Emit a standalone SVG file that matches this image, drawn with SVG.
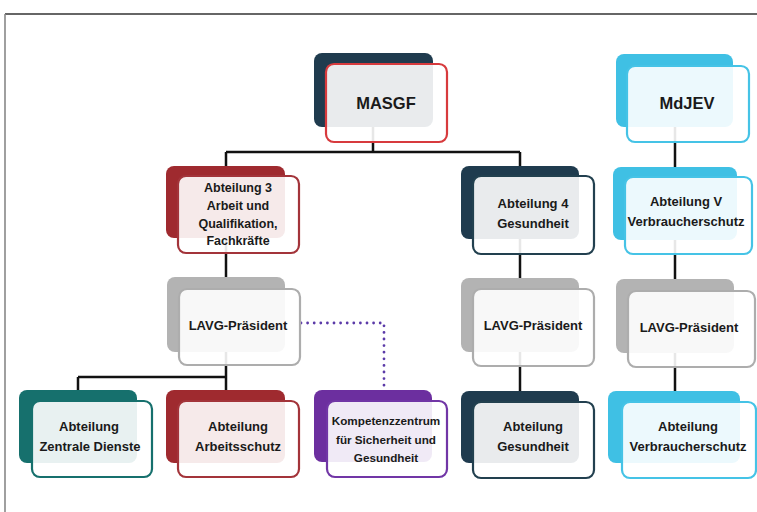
<svg xmlns="http://www.w3.org/2000/svg" width="757" height="512" viewBox="0 0 757 512">
<style>
.back{stroke:none}
.front{fill:#ffffff;fill-opacity:0.9;stroke-width:2.2}
.t{font-family:"Liberation Sans",Arial,sans-serif;font-weight:bold;font-size:13px;fill:#1a1a1a;text-anchor:middle}
.big{font-size:16.5px}
.s12{font-size:12.5px}
.s115{font-size:11.7px}
.navy{fill:#1f3b4e}
.navyS{stroke:#22404f}
.red{fill:#9f2a2f}
.redS{stroke:#a3343a}
.brightS{stroke:#d73a3d}
.cyan{fill:#3fc0e4}
.cyanS{stroke:#45c3e6}
.gray{fill:#b3b3b3}
.grayS{stroke:#adadad}
.teal{fill:#16706d}
.tealS{stroke:#16706d}
.purple{fill:#6c2f9f}
.purpleS{stroke:#7136a6}
.conn{fill:none;stroke:#111;stroke-width:2.5}
</style>
<g id="frame">
<line x1="5" y1="14" x2="757" y2="14" stroke="#333" stroke-width="1.3"/>
<line x1="5" y1="14" x2="5" y2="512" stroke="#888" stroke-width="1.6"/>
</g>
<g id="connectors">
<path class="conn" d="M373,90 V152 M226,152 H520 M226,152 V200 M520,152 V200"/>
<path class="conn" d="M226,200 V320"/>
<path class="conn" d="M226,320 V377 M78,377 H227 M78,377 V420 M226,377 V420"/>
<path class="conn" d="M520,200 V430"/>
<path class="conn" d="M675,90 V430"/>
<path d="M301,323 H384 V389" fill="none" stroke="#5b3aa8" stroke-width="2.8" stroke-linecap="round" stroke-dasharray="0 6.6"/>
</g>
<g id="masgf">
<rect class="back navy" x="314" y="53" width="119" height="74" rx="8"/>
<rect class="front brightS" x="326" y="64" width="121" height="78" rx="8"/>
<text class="t big" x="386" y="109">MASGF</text>
</g>
<g id="mdjev">
<rect class="back cyan" x="616" y="54" width="117" height="73" rx="8"/>
<rect class="front cyanS" x="627" y="66" width="122" height="76" rx="8"/>
<text class="t big" x="687" y="109">MdJEV</text>
</g>
<g id="abt3">
<rect class="back red" x="166" y="166" width="119" height="72" rx="8"/>
<rect class="front redS" x="178" y="176" width="121" height="77" rx="8"/>
<text class="t s12" x="238" y="192">Abteilung 3</text>
<text class="t s12" x="238" y="210">Arbeit und</text>
<text class="t s12" x="238" y="228">Qualifikation,</text>
<text class="t s12" x="238" y="245">Fachkräfte</text>
</g>
<g id="abt4">
<rect class="back navy" x="461" y="166" width="118" height="73" rx="8"/>
<rect class="front navyS" x="473" y="176" width="121" height="78" rx="8"/>
<text class="t" x="533" y="208">Abteilung 4</text>
<text class="t" x="533" y="228">Gesundheit</text>
</g>
<g id="abtV">
<rect class="back cyan" x="613" y="167" width="124" height="73" rx="8"/>
<rect class="front cyanS" x="625" y="177" width="127" height="77" rx="8"/>
<text class="t" x="686" y="206">Abteilung V</text>
<text class="t" x="686" y="226">Verbraucherschutz</text>
</g>
<g id="lavg1">
<rect class="back gray" x="167" y="277" width="118" height="75" rx="8"/>
<rect class="front grayS" x="179" y="289" width="121" height="76" rx="8"/>
<text class="t" x="238" y="330">LAVG-Präsident</text>
</g>
<g id="lavg2">
<rect class="back gray" x="461" y="278" width="118" height="74" rx="8"/>
<rect class="front grayS" x="473" y="289" width="121" height="77" rx="8"/>
<text class="t" x="533" y="330">LAVG-Präsident</text>
</g>
<g id="lavg3">
<rect class="back gray" x="616" y="279" width="118" height="74" rx="8"/>
<rect class="front grayS" x="628" y="291" width="127" height="76" rx="8"/>
<text class="t" x="689" y="332">LAVG-Präsident</text>
</g>
<g id="zentrale">
<rect class="back teal" x="19" y="390" width="118" height="73" rx="8"/>
<rect class="front tealS" x="32" y="401" width="120" height="76" rx="8"/>
<text class="t" x="89" y="431">Abteilung</text>
<text class="t" x="90" y="451">Zentrale Dienste</text>
</g>
<g id="arbeitsschutz">
<rect class="back red" x="166" y="390" width="119" height="73" rx="8"/>
<rect class="front redS" x="178" y="401" width="121" height="76" rx="8"/>
<text class="t" x="238" y="431">Abteilung</text>
<text class="t" x="238" y="451">Arbeitsschutz</text>
</g>
<g id="kompetenz">
<rect class="back purple" x="314" y="390" width="118" height="72" rx="8"/>
<rect class="front purpleS" x="327" y="401" width="120" height="76" rx="8"/>
<text class="t s115" x="386" y="425">Kompetenzzentrum</text>
<text class="t s115" x="386" y="444">für Sicherheit und</text>
<text class="t s115" x="386" y="462">Gesundheit</text>
</g>
<g id="gesundheit">
<rect class="back navy" x="461" y="391" width="118" height="72" rx="8"/>
<rect class="front navyS" x="473" y="402" width="121" height="76" rx="8"/>
<text class="t" x="533" y="431">Abteilung</text>
<text class="t" x="533" y="451">Gesundheit</text>
</g>
<g id="verbraucherschutz">
<rect class="back cyan" x="608" y="391" width="132" height="72" rx="8"/>
<rect class="front cyanS" x="622" y="402" width="134" height="76" rx="8"/>
<text class="t" x="688" y="431">Abteilung</text>
<text class="t" x="688" y="451">Verbraucherschutz</text>
</g>
</svg>
